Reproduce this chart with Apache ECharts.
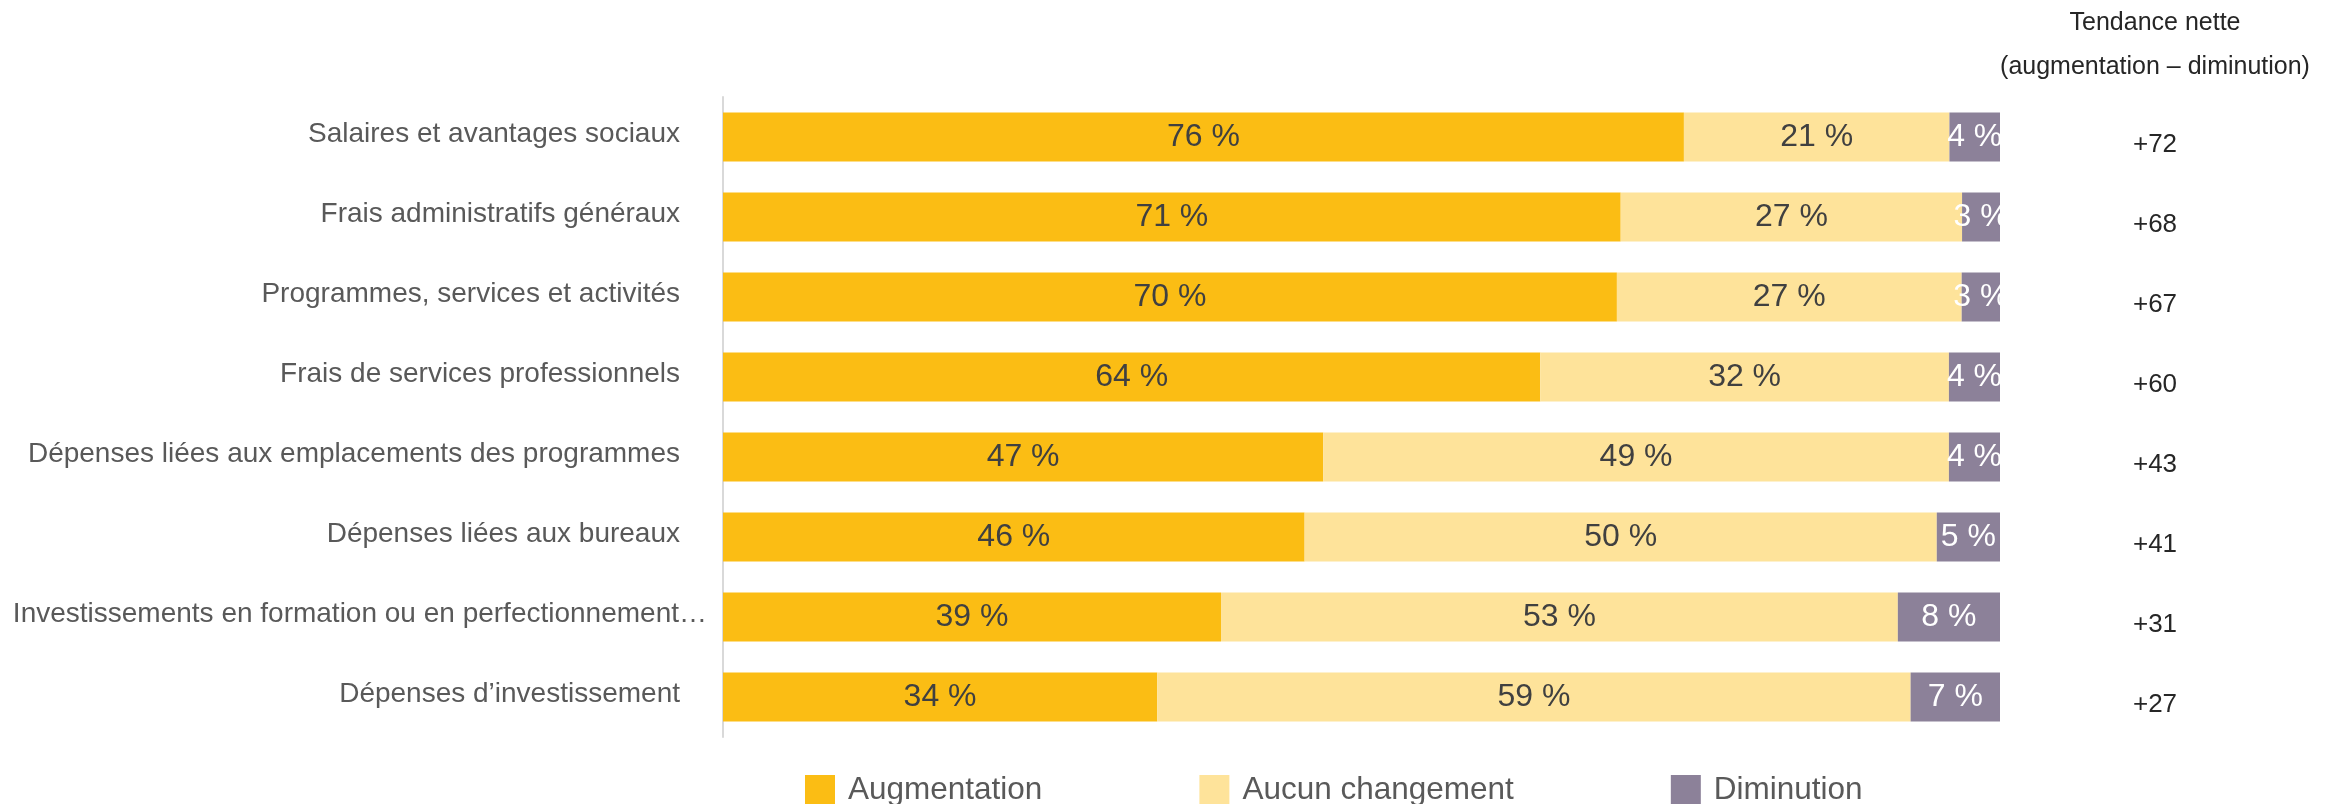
<!DOCTYPE html>
<html>
<head>
<meta charset="utf-8">
<script src="https://cdn.jsdelivr.net/npm/echarts@6/dist/echarts.min.js"></script>
<style>
  html, body { margin: 0; padding: 0; background: #fff; }
  #chart { width: 2333px; height: 804px; }
</style>
</head>
<body>
<div id="chart"></div>
<script>
// categories, top to bottom
const categories = [
  'Salaires et avantages sociaux',
  'Frais administratifs généraux',
  'Programmes, services et activités',
  'Frais de services professionnels',
  'Dépenses liées aux emplacements des programmes',
  'Dépenses liées aux bureaux',
  'Investissements en formation ou en perfectionnement…',
  'Dépenses d\u2019investissement'
]

const augmentation = [76, 71, 70, 64, 47, 46, 39, 34]
const aucunChangement = [21, 27, 27, 32, 49, 50, 53, 59]
const diminution = [4, 3, 3, 4, 4, 5, 8, 7]

// tendance nette (augmentation – diminution)
const netTrend = ['+72', '+68', '+67', '+60', '+43', '+41', '+31', '+27']

const seriesNames = ['Augmentation', 'Aucun changement', 'Diminution']
const colors = ['#FBBD14', '#FEE39A', '#8C8199']
const labelColors = ['#404040', '#404040', '#ffffff']

const FONT = '"Liberation Sans", Arial, sans-serif'

const rows = [augmentation, aucunChangement, diminution]
// each bar fills the full width: share of the row total (rounded values can sum to 101)
const totals = categories.map((c, i) => augmentation[i] + aucunChangement[i] + diminution[i])

const chart = echarts.init(document.getElementById('chart'))

const series = rows.map((vals, s) => ({
  name: seriesNames[s],
  type: 'bar',
  stack: 'total',
  barCategoryGap: '39%',
  itemStyle: { color: colors[s] },
  label: {
    show: true,
    position: 'inside',
    color: labelColors[s],
    fontFamily: FONT,
    fontSize: 32,
    formatter: p => vals[p.dataIndex] + ' %'
  },
  emphasis: { disabled: true },
  data: vals.map((v, i) => v / totals[i] * 100)
}))

const option = {
  animation: false,
  color: colors,
  grid: { left: 723, right: 333, top: 97, height: 640, containLabel: false, outerBoundsMode: 'none' },
  xAxis: {
    type: 'value',
    min: 0,
    max: 100,
    show: false
  },
  yAxis: [
    {
      type: 'category',
      inverse: true,
      data: categories,
      axisLine: { show: true, lineStyle: { color: '#d9d9d9', width: 2 } },
      axisTick: { show: false },
      axisLabel: {
        margin: 16,
        // the truncated label sits a little further right in the original
        formatter: v => (v.endsWith('…') ? '{long|' : '{n|') + v + '}',
        rich: {
          n: { color: '#595959', fontFamily: FONT, fontSize: 28, padding: [0, 27, 6, 0] },
          long: { color: '#595959', fontFamily: FONT, fontSize: 28, padding: [0, 0, 6, 0] }
        }
      }
    },
    {
      type: 'category',
      inverse: true,
      position: 'right',
      data: categories,
      axisLine: { show: false },
      axisTick: { show: false },
      axisLabel: {
        margin: 155,
        align: 'center',
        formatter: (v, i) => '{n|' + netTrend[i] + '}',
        rich: {
          n: { color: '#262626', fontFamily: FONT, fontSize: 26, padding: [16, 0, 0, 0] }
        }
      }
    }
  ],
  legend: {
    left: 805,
    top: 774,
    padding: 0,
    itemWidth: 30,
    itemHeight: 30,
    itemGap: 157,
    icon: 'rect',
    textStyle: { color: '#595959', fontFamily: FONT, fontSize: 31.5, padding: [0, 0, 6, 8] },
    data: seriesNames
  },
  graphic: [
    {
      type: 'text',
      x: 2155,
      y: 23,
      style: { text: 'Tendance nette', fill: '#262626', font: '25px ' + FONT, align: 'center', verticalAlign: 'middle' }
    },
    {
      type: 'text',
      x: 2155,
      y: 67,
      style: { text: '(augmentation \u2013 diminution)', fill: '#262626', font: '25px ' + FONT, align: 'center', verticalAlign: 'middle' }
    }
  ],
  series: series
}

chart.setOption(option)
</script>
</body>
</html>
